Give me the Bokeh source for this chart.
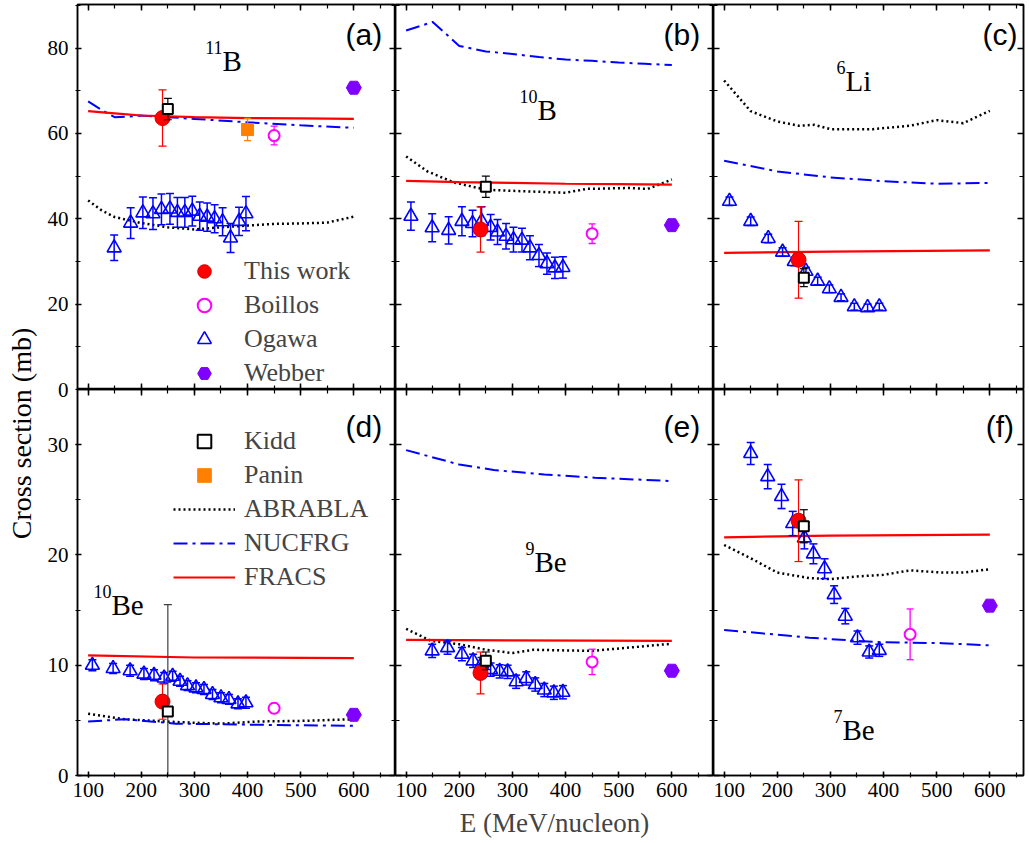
import math
from bokeh.plotting import figure
from bokeh.models import Range1d, LinearAxis, SingleIntervalTicker, Legend, LegendItem
from bokeh.layouts import gridplot, row
from bokeh.embed import file_html
from bokeh.resources import INLINE
from bokeh.core.properties import value

SERIF = "Liberation Serif"
SANS = "Liberation Sans"

# ---------------- data ----------------
panel_tags = ["(a)", "(b)", "(c)", "(d)", "(e)", "(f)"]
mass_numbers = ["11", "10", "6", "10", "9", "7"]
elements = ["B", "B", "Li", "Be", "Be", "Be"]
yticks_top = [0, 20, 40, 60, 80]
yticks_bot = [0, 10, 20, 30]

# This work (240 MeV/nucleon)
this_E = 240
this_sig = [63.6, 37.5, 30.4, 6.7, 9.3, 23.1]
this_err = [6.6, 5.3, 9.0, 1.6, 1.9, 3.7]

# Kidd
kidd_E = 250
kidd_sig = [65.7, 47.5, 26.2, 5.8, 10.4, 22.6]
kidd_err = [2.5, 2.5, 2.1, 9.7, 0.8, 1.5]

# Boillos
boillos_E = 450
boillos_sig = [59.5, 36.5, None, 6.1, 10.3, 12.8]
boillos_err = [2.2, 2.3, None, 0.45, 1.15, 2.3]

# Webber
webber_E = 600
webber_sig = [70.7, 38.5, None, 5.5, 9.5, 15.4]

# Panin (11B only)
panin_E = 400
panin_sig = 60.9
panin_err = 2.6

# Ogawa
ogawa_E_a = [149, 180, 203, 222, 238, 254, 268, 282, 296, 310, 324, 338, 353, 368, 384, 397]
ogawa_sig_a = [33.2, 39.0, 41.4, 41.2, 42.2, 42.3, 41.5, 41.5, 41.8, 40.6, 40.4, 40.0, 39.3, 35.5, 39.4, 41.2]
ogawa_err_a = [3.0, 3.6, 3.7, 3.7, 3.6, 3.6, 3.5, 3.5, 3.5, 3.3, 3.3, 3.3, 3.3, 3.4, 3.3, 4.0]

ogawa_E_b = [109, 149, 180, 205, 225, 242, 259, 272, 288, 302, 318, 333, 350, 365, 380, 395]
ogawa_sig_b = [40.6, 37.9, 37.3, 39.4, 38.9, 39.4, 38.0, 36.9, 35.9, 35.1, 35.0, 33.2, 31.4, 29.5, 28.5, 28.6]
ogawa_err_b = [3.3, 3.3, 3.2, 3.4, 3.1, 3.4, 3.0, 2.9, 3.0, 2.9, 2.8, 2.8, 2.6, 2.5, 2.5, 2.5]

ogawa_E_c = [110, 150, 183, 210, 232, 254, 276, 298, 320, 345, 370, 392]
ogawa_sig_c = [44.1, 39.4, 35.4, 32.2, 30.0, 27.7, 25.4, 23.6, 21.6, 19.4, 19.2, 19.4]
ogawa_err_c = [1.0, 1.0, 1.0, 1.0, 1.0, 0.9, 0.9, 0.9, 0.8, 0.8, 0.8, 0.8]

ogawa_E_d = [108, 147, 179, 205, 224, 243, 259, 273, 287, 303, 318, 334, 350, 365, 382, 397]
ogawa_sig_d = [10.0, 9.7, 9.5, 9.2, 9.1, 8.85, 9.0, 8.55, 8.15, 7.95, 7.8, 7.35, 7.05, 6.9, 6.5, 6.6]
ogawa_err_d = [0.5, 0.45, 0.5, 0.5, 0.5, 0.5, 0.45, 0.45, 0.45, 0.45, 0.45, 0.45, 0.45, 0.45, 0.45, 0.5]

ogawa_E_e = [149, 178, 205, 226, 242, 259, 276, 291, 307, 326, 343, 360, 378, 395]
ogawa_sig_e = [11.3, 11.6, 11.0, 10.4, 10.1, 9.6, 9.45, 9.4, 8.5, 8.8, 8.25, 7.75, 7.5, 7.55]
ogawa_err_e = [0.6, 0.6, 0.6, 0.6, 0.6, 0.6, 0.6, 0.6, 0.6, 0.6, 0.6, 0.6, 0.6, 0.6]

ogawa_E_f = [150, 182, 208, 229, 251, 268, 289, 307, 328, 351, 373, 392]
ogawa_sig_f = [29.2, 27.1, 25.3, 22.85, 21.55, 20.1, 18.75, 16.4, 14.45, 12.5, 11.2, 11.35]
ogawa_err_f = [1.0, 1.1, 1.1, 1.1, 1.0, 0.9, 0.9, 0.8, 0.7, 0.6, 0.55, 0.55]

# ABRABLA model
abrabla_E_a = [100, 125, 150, 200, 250, 300, 350, 400, 450, 500, 550, 600]
abrabla_a = [44.3, 42.0, 40.4, 39.0, 38.0, 37.5, 38.0, 38.4, 38.8, 38.9, 39.1, 40.5]
abrabla_E_b = [100, 140, 190, 250, 330, 400, 440, 520, 555, 600]
abrabla_b = [54.6, 51.1, 48.5, 46.8, 46.4, 46.1, 47.0, 47.2, 47.0, 49.2]
abrabla_E_c = [100, 150, 200, 240, 270, 300, 380, 450, 500, 550, 600]
abrabla_c = [72.4, 65.2, 62.8, 61.8, 62.0, 61.0, 61.0, 61.8, 63.1, 62.4, 65.3]
abrabla_E_d = [100, 170, 265, 350, 420, 500, 600]
abrabla_d = [5.6, 5.1, 4.85, 4.7, 4.9, 4.95, 5.1]
abrabla_E_e = [100, 147, 200, 250, 300, 340, 390, 450, 520, 600]
abrabla_e = [13.3, 12.2, 11.9, 11.4, 11.1, 11.4, 11.35, 11.3, 11.6, 11.95]
abrabla_E_f = [100, 150, 200, 260, 300, 350, 400, 450, 510, 550, 600]
abrabla_f = [20.9, 19.7, 18.4, 17.9, 17.8, 18.05, 18.2, 18.6, 18.4, 18.4, 18.7]

# NUCFRG model
nucfrg_E_a = [100, 125, 150, 175, 200, 250, 300, 400, 500, 600]
nucfrg_a = [67.5, 65.5, 63.8, 63.9, 64.2, 63.8, 63.4, 62.6, 61.9, 61.3]
nucfrg_E_b = [100, 150, 200, 250, 300, 350, 400, 450, 500, 550, 600]
nucfrg_b = [84.1, 86.1, 80.5, 79.2, 78.6, 77.9, 77.3, 77.0, 76.6, 76.3, 76.0]
nucfrg_E_c = [100, 200, 300, 400, 500, 600]
nucfrg_c = [53.6, 51.1, 49.7, 48.8, 48.2, 48.4]
nucfrg_E_d = [100, 170, 265, 420, 600]
nucfrg_d = [4.9, 5.1, 4.7, 4.6, 4.5]
nucfrg_E_e = [100, 200, 265, 360, 455, 600]
nucfrg_e = [29.5, 28.2, 27.7, 27.3, 27.0, 26.7]
nucfrg_E_f = [100, 260, 385, 510, 600]
nucfrg_f = [13.2, 12.5, 12.1, 12.0, 11.8]

# FRACS model
fracs_E_a = [100, 150, 200, 300, 400, 500, 600]
fracs_a = [65.2, 64.7, 64.2, 63.8, 63.6, 63.5, 63.4]
fracs_E_b = [100, 200, 300, 400, 500, 600]
fracs_b = [48.9, 48.6, 48.4, 48.2, 48.1, 48.0]
fracs_E_c = [100, 300, 600]
fracs_c = [32.0, 32.3, 32.6]
fracs_E_d = [100, 300, 600]
fracs_d = [10.9, 10.7, 10.65]
fracs_E_e = [100, 300, 600]
fracs_e = [12.3, 12.25, 12.2]
fracs_E_f = [100, 300, 600]
fracs_f = [21.6, 21.75, 21.85]

G = globals()
keys = ["a", "b", "c", "d", "e", "f"]

# ---------------- layout constants ----------------
PX_PER_MEV = 0.5314
FRAME_W = [318, 318, 310]
TOP_H, BOT_H = 385, 386
TOP_MAX, BOT_MAX = 90.2, 35.0
TOP_BORDER = 4
BOT_BORDER = 59
LEFT_COL_W = 69          # width of the left label strip
TOP_PX = TOP_H / TOP_MAX
BOT_PX = BOT_H / BOT_MAX

# label positions (data coordinates)
nuc_pos = [(352.9, 77.0), (347.2, 65.5), (328.4, 72.3), (144.0, 15.5), (341.6, 19.4), (322.8, 4.17)]
tag_pos_top, tag_pos_bot = 83.2, 31.6

BLUE = "#0000ff"
RED = "#ff0000"
MAG = "#ff00ff"
PURPLE = "#7f00ff"
ORANGE = "#ff8000"


def style_axis(ax, labels, outer):
    ax.axis_line_color = "black"
    ax.axis_line_width = 1.5
    ax.major_tick_line_color = "black"
    ax.major_tick_line_width = 1.5
    ax.minor_tick_line_color = "black"
    ax.minor_tick_line_width = 1.2
    if outer:
        ax.major_tick_in, ax.major_tick_out = 4, 2
        ax.minor_tick_in, ax.minor_tick_out = 3, 2
    else:
        ax.major_tick_in, ax.major_tick_out = 6, 0
        ax.minor_tick_in, ax.minor_tick_out = 4, 0
    if labels:
        ax.major_label_text_font = SERIF
        ax.major_label_text_font_size = "21px"
        ax.major_label_text_color = "black"
        ax.major_label_standoff = 5
    else:
        ax.major_label_text_font_size = "0px"
        ax.major_label_text_color = None
        ax.major_label_standoff = 0


def errbar(p, x, y, e, color, width, cap):
    lo = [yy - ee for yy, ee in zip(y, e)]
    hi = [yy + ee for yy, ee in zip(y, e)]
    p.segment(x0=x, y0=lo, x1=x, y1=hi, line_color=color, line_width=width)
    p.scatter(x=x, y=hi, marker="dash", size=cap, line_color=color, line_width=width)
    p.scatter(x=x, y=lo, marker="dash", size=cap, line_color=color, line_width=width)


panels = []
for i, k in enumerate(keys):
    top = i < 3
    col = i % 3
    fw = FRAME_W[col]
    fh = TOP_H if top else BOT_H
    ymax = TOP_MAX if top else BOT_MAX
    p = figure(frame_width=fw, frame_height=fh,
               x_range=Range1d(80, 80 + fw / PX_PER_MEV), y_range=Range1d(0, ymax),
               output_backend="svg", toolbar_location=None,
               min_border_left=8 if col == 0 else 0,
               min_border_right=2 if col == 2 else 0,
               min_border_top=TOP_BORDER if top else 0,
               min_border_bottom=0 if top else BOT_BORDER,
               background_fill_color="white", border_fill_color="white")
    p.grid.visible = False
    p.outline_line_color = "black"
    p.outline_line_width = 1.5

    yint = 20 if top else 10
    p.xaxis.ticker = SingleIntervalTicker(interval=100, num_minor_ticks=2)
    p.yaxis.ticker = SingleIntervalTicker(interval=yint, num_minor_ticks=2)
    p.add_layout(LinearAxis(ticker=SingleIntervalTicker(interval=100, num_minor_ticks=2)), "above")
    p.add_layout(LinearAxis(ticker=SingleIntervalTicker(interval=yint, num_minor_ticks=2)), "right")

    style_axis(p.below[0], labels=not top, outer=not top)
    style_axis(p.left[0], labels=False, outer=(col == 0))
    style_axis(p.above[0], labels=False, outer=False)
    style_axis(p.right[0], labels=False, outer=False)

    if k == "e":
        ax = p.below[0]
        ax.axis_label = "E (MeV/nucleon)"
        ax.axis_label_text_font = SERIF
        ax.axis_label_text_font_size = "27px"
        ax.axis_label_text_font_style = "normal"
        ax.axis_label_standoff = 8

    # model curves
    r_abr = p.line(G["abrabla_E_" + k], G["abrabla_" + k], line_color="black", line_width=2.5,
                   line_dash="2 3")
    r_nuc = p.line(G["nucfrg_E_" + k], G["nucfrg_" + k], line_color=BLUE, line_width=2.0,
                   line_dash="14 5 3 5")
    r_fra = p.line(G["fracs_E_" + k], G["fracs_" + k], line_color=RED, line_width=2.2)

    # Ogawa
    oE, oS, oErr = G["ogawa_E_" + k], G["ogawa_sig_" + k], G["ogawa_err_" + k]
    errbar(p, oE, oS, oErr, BLUE, 1.5, 8)
    r_oga = p.scatter(oE, oS, marker="triangle", size=14, line_color=BLUE, line_width=1.6,
                      fill_color="white", fill_alpha=0.0)

    # Boillos
    r_boi = None
    if boillos_sig[i] is not None:
        errbar(p, [boillos_E], [boillos_sig[i]], [boillos_err[i]], MAG, 1.3, 7)
        r_boi = p.scatter([boillos_E], [boillos_sig[i]], marker="circle", size=11, line_color=MAG,
                          line_width=2, fill_color="white")
    # Panin
    r_pan = None
    if k == "a":
        errbar(p, [panin_E], [panin_sig], [panin_err], ORANGE, 1.3, 7)
        r_pan = p.scatter([panin_E], [panin_sig], marker="square", size=12, line_color=ORANGE,
                          fill_color=ORANGE)
    elif k == "d":
        # legend-only entry (Panin has no 10Be point): hidden renderer
        r_pan = p.scatter([panin_E], [panin_sig], marker="square", size=12, line_color=ORANGE,
                          fill_color=ORANGE, visible=False)
    # Webber
    r_web = None
    if webber_sig[i] is not None:
        r_web = p.scatter([webber_E], [webber_sig[i]], marker="hex", size=15,
                          line_color=PURPLE, fill_color=PURPLE)

    # This work
    errbar(p, [this_E], [this_sig[i]], [this_err[i]], RED, 1.2, 8)
    r_this = p.scatter([this_E], [this_sig[i]], marker="circle", size=15, line_color="#d00000",
                       fill_color=RED)

    # Kidd
    kcol = "#404040" if k == "d" else "black"
    errbar(p, [kidd_E], [kidd_sig[i]], [kidd_err[i]], kcol, 1.2, 8)
    r_kid = p.scatter([kidd_E], [kidd_sig[i]], marker="square", size=10, line_color="black",
                      line_width=2, fill_color="white")

    # nuclide label
    nx, ny = nuc_pos[i]
    unit = (fh / ymax)
    p.text(x=[nx], y=[ny], text=[elements[i]], text_align="left", text_baseline="alphabetic",
           text_font=value(SERIF), text_font_size="29px", text_color="black")
    p.text(x=[nx], y=[ny + 13.0 / unit], text=[mass_numbers[i]], text_align="right",
           text_baseline="alphabetic", text_font=value(SERIF), text_font_size="18px",
           text_color="black")
    # panel tag
    p.text(x=[619], y=[tag_pos_top if top else tag_pos_bot], text=[panel_tags[i]],
           text_align="center", text_baseline="middle", text_font=value(SANS),
           text_font_size="30px", text_color="black")

    common = dict(glyph_width=62, glyph_height=34, label_height=34, spacing=0, padding=0,
                  margin=0, border_line_color=None, background_fill_alpha=0.0,
                  inactive_fill_alpha=0.0,
                  label_text_font=SERIF, label_text_font_size="26px", label_standoff=9)
    if k == "a":
        leg = Legend(items=[LegendItem(label="This work", renderers=[r_this]),
                            LegendItem(label="Boillos", renderers=[r_boi]),
                            LegendItem(label="Ogawa", renderers=[r_oga]),
                            LegendItem(label="Webber", renderers=[r_web])],
                     location=(96, -1), **common)
        p.add_layout(leg)
    if k == "d":
        leg = Legend(items=[LegendItem(label="Kidd", renderers=[r_kid]),
                            LegendItem(label="Panin", renderers=[r_pan]),
                            LegendItem(label="ABRABLA", renderers=[r_abr]),
                            LegendItem(label="NUCFRG", renderers=[r_nuc]),
                            LegendItem(label="FRACS", renderers=[r_fra])],
                     location=(96, 181), **common)
        p.add_layout(leg)
    panels.append(p)

grid = gridplot([panels[0:3], panels[3:6]], toolbar_location=None)

# ---- left strip: y tick labels of the left column and the y-axis title ----
TOTAL_H = TOP_BORDER + TOP_H + BOT_H + BOT_BORDER
top_base = TOP_BORDER + TOP_H          # offset (px) of the top-row zero line
bot_base = top_base + BOT_H            # offset (px) of the bottom-row zero line
yl = figure(frame_width=LEFT_COL_W, frame_height=TOTAL_H,
            x_range=Range1d(0, LEFT_COL_W),
            y_range=Range1d((top_base - TOTAL_H) / TOP_PX, top_base / TOP_PX),
            output_backend="svg", toolbar_location=None, min_border=0,
            background_fill_color="white", border_fill_color="white")
yl.extra_y_ranges = {"bot": Range1d((bot_base - TOTAL_H) / BOT_PX, bot_base / BOT_PX)}
yl.axis.visible = False
yl.grid.visible = False
yl.outline_line_color = None
yl.text(x=[LEFT_COL_W - 1] * len(yticks_top), y=yticks_top, text=[str(t) for t in yticks_top],
        text_align="right", text_baseline="middle", text_font=value(SERIF),
        text_font_size="21px", text_color="black")
yl.text(x=[LEFT_COL_W - 1] * len(yticks_bot), y=yticks_bot, text=[str(t) for t in yticks_bot],
        text_align="right", text_baseline="middle", text_font=value(SERIF),
        text_font_size="21px", text_color="black", y_range_name="bot")
yl.text(x=[21], y=[(top_base - 433) / TOP_PX], text=["Cross section (mb)"], angle=math.pi / 2,
        text_align="center", text_baseline="middle", text_font=value(SERIF),
        text_font_size="28px", text_color="black")

layout = row(yl, grid)
open("out.html", "w").write(file_html(layout, INLINE))
